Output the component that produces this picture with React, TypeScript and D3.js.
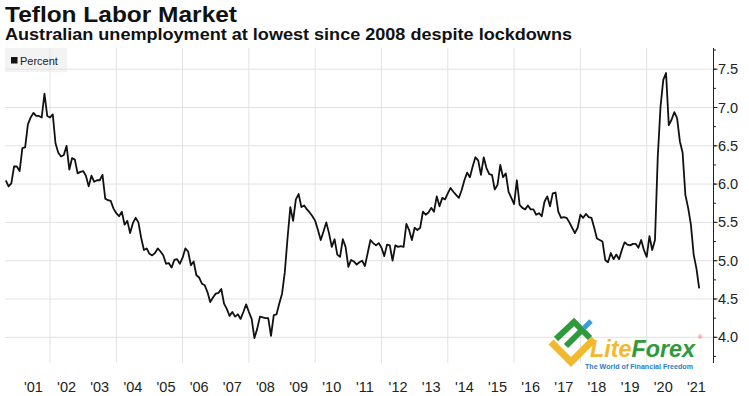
import React from "react";
import * as d3 from "d3";

// Monthly Australian unemployment rate (percent), Aug 2000 – Jul 2021
const startYear = 2000;
const startMonth = 8; // August
const unemployment = [
  6.05, 5.97, 6.01, 6.23, 6.23, 6.17, 6.47, 6.48, 6.78, 6.87, 6.93, 6.89,
  6.89, 6.87, 7.18, 6.89, 6.87, 6.91, 6.53, 6.41, 6.36, 6.38, 6.5, 6.19,
  6.34, 6.32, 6.14, 6.16, 6.17, 6.11, 5.97, 6.11, 6.03, 6.05, 6.05, 6.12,
  5.81, 5.79, 5.78, 5.68, 5.62, 5.58, 5.64, 5.47, 5.52, 5.36, 5.49, 5.56,
  5.5, 5.3, 5.14, 5.16, 5.09, 5.07, 5.1, 5.16, 5.12, 5.07, 4.96, 4.97,
  4.91, 5.01, 5.02, 4.96, 5.04, 5.16, 5.12, 4.94, 4.99, 4.81, 4.78, 4.7,
  4.68, 4.59, 4.46, 4.52, 4.57, 4.58, 4.63, 4.44, 4.37, 4.28, 4.33, 4.27,
  4.3, 4.24, 4.33, 4.43, 4.33, 4.24, 3.99, 4.11, 4.27, 4.26, 4.25, 4.25,
  4.02, 4.29, 4.3, 4.44, 4.57, 4.85, 5.3, 5.7, 5.52, 5.8, 5.87, 5.7,
  5.72, 5.67, 5.63, 5.58, 5.52, 5.4, 5.27, 5.38, 5.5, 5.36, 5.18, 5.28,
  5.08, 5.05, 5.28, 5.18, 4.92, 5.01, 4.99, 4.95, 4.98, 5.0, 4.93, 5.1,
  5.27, 5.23, 5.2, 5.23, 5.17, 5.06, 5.21, 5.2, 5.0, 5.2, 5.18, 5.19,
  5.18, 5.48, 5.4, 5.27, 5.43, 5.4, 5.43, 5.64, 5.6, 5.63, 5.69, 5.64,
  5.84, 5.71, 5.82, 5.8, 5.88, 5.95, 5.9, 5.86, 5.82, 5.92, 6.05, 6.15,
  6.09, 6.23, 6.35, 6.31, 6.12, 6.35, 6.21, 6.13, 6.12, 5.93, 5.99, 6.25,
  6.09, 6.14, 5.9, 5.82, 5.74, 6.05, 5.73, 5.69, 5.67, 5.72, 5.67, 5.67,
  5.6, 5.62, 5.58, 5.77, 5.84, 5.71, 5.88, 5.89, 5.64, 5.56, 5.57, 5.56,
  5.5, 5.43, 5.36, 5.43, 5.6, 5.56, 5.61, 5.57, 5.56, 5.43, 5.29, 5.27,
  5.25, 5.01, 4.98, 5.1, 5.02, 5.08, 5.02, 5.14, 5.24, 5.21, 5.2, 5.22,
  5.22, 5.17, 5.27, 5.14, 5.05, 5.32, 5.14, 5.27, 6.35, 7.01, 7.36, 7.45,
  6.77, 6.84, 6.94, 6.86, 6.56, 6.41, 5.86, 5.69, 5.47, 5.08, 4.9, 4.64,
];

const yearLabels = [
  "'01", "'02", "'03", "'04", "'05", "'06", "'07", "'08", "'09", "'10",
  "'11", "'12", "'13", "'14", "'15", "'16", "'17", "'18", "'19", "'20", "'21",
];
const labelYears = d3.range(2001, 2022);
const gridYears = d3.range(2002, 2021, 2);
const yTicks = [4.0, 4.5, 5.0, 5.5, 6.0, 6.5, 7.0, 7.5];
const yMinorTicks = d3.range(3.75, 7.8, 0.25);

const title = "Teflon Labor Market";
const subtitle = "Australian unemployment at lowest since 2008 despite lockdowns";
const legendLabel = "Percent";

export default function App() {
  const W = 749;
  const H = 396;
  const axisX = 713.5;
  const plotTop = 48;
  const plotBottom = 363;

  const x = d3.scaleLinear().domain([2002, 2020]).range([50, 646.7]);
  const y = d3.scaleLinear().domain([4.0, 7.5]).range([337.3, 69.2]);

  const pts = unemployment.map((v, i) => ({
    t: startYear + (startMonth + i) / 12, // end-of-month
    v,
  }));
  const line = d3
    .line<{ t: number; v: number }>()
    .x((d) => x(d.t))
    .y((d) => y(d.v));

  const font = "'Liberation Sans', Arial, sans-serif";

  return (
    <svg
      width={W}
      height={H}
      style={{ position: "absolute", left: 0, top: 0, background: "#fff" }}
      fontFamily={font}
    >
      <rect x={0} y={0} width={W} height={H} fill="#fff" />
      {/* Title */}
      <text x={5} y={22} fontSize={22} fontWeight="bold" fill="#111" textLength={232} lengthAdjust="spacingAndGlyphs">
        {title}
      </text>
      <text x={5} y={40} fontSize={16.5} fontWeight="bold" fill="#111" textLength={567} lengthAdjust="spacingAndGlyphs">
        {subtitle}
      </text>

      {/* legend background */}
      <rect x={5} y={48} width={62} height={24} fill="#f3f3f3" />

      {/* gridlines */}
      {yTicks.map((t) => (
        <line key={"h" + t} x1={5} x2={axisX} y1={y(t)} y2={y(t)} stroke="#e2e2e2" strokeWidth={1} />
      ))}
      {gridYears.map((yr) => (
        <line key={"v" + yr} x1={x(yr)} x2={x(yr)} y1={plotTop} y2={plotBottom} stroke="#e2e2e2" strokeWidth={1} />
      ))}

      {/* legend */}
      <rect x={11} y={57} width={6.5} height={6.5} fill="#111" />
      <text x={20} y={64.5} fontSize={11} fill="#222">
        {legendLabel}
      </text>

      {/* data line */}
      <path d={line(pts) || ""} fill="none" stroke="#111" strokeWidth={1.8} strokeLinejoin="round" />

      {/* right axis */}
      <line x1={axisX} x2={axisX} y1={plotTop} y2={plotBottom} stroke="#222" strokeWidth={1} />
      {yMinorTicks.map((t) => (
        <line key={"m" + t} x1={axisX} x2={axisX + 2.5} y1={y(t)} y2={y(t)} stroke="#222" strokeWidth={1} />
      ))}
      {yTicks.map((t) => (
        <g key={"t" + t}>
          <line x1={axisX} x2={axisX + 4} y1={y(t)} y2={y(t)} stroke="#222" strokeWidth={1} />
          <text x={718} y={y(t)} dy="0.35em" fontSize={14.5} fill="#222">
            {d3.format(".1f")(t)}
          </text>
        </g>
      ))}

      {/* x labels */}
      {labelYears.map((yr, i) => (
        <text key={"x" + yr} x={x(yr + 0.5)} y={392} fontSize={14.5} fill="#222" textAnchor="middle">
          {yearLabels[i]}
        </text>
      ))}

      {/* LiteForex watermark */}
      <g>
        <polyline points="551,342 571,362 594,339" fill="none" stroke="#f2b92e" strokeWidth={7} strokeLinejoin="miter" />
        <polyline points="556,339 574,322 590,338" fill="none" stroke="#2f9a3c" strokeWidth={6} strokeLinejoin="miter" />
        <polyline points="566,346 583,329" fill="none" stroke="#2f9a3c" strokeWidth={6} />
        <line x1={584} y1={328} x2={591} y2={321} stroke="#3a9be0" strokeWidth={5} />
        <text x={590} y={357} fontSize={23} fontWeight="bold" fontStyle="italic" textLength={105} lengthAdjust="spacingAndGlyphs">
          <tspan fill="#f2b92e">Lite</tspan>
          <tspan fill="#2f9a3c">Forex</tspan>
        </text>
        <text x={698} y={339} fontSize={6} fill="#e0502a">®</text>
        <text x={585} y={369} fontSize={7} fontWeight="bold" fill="#2b7cc0" textLength={108} lengthAdjust="spacingAndGlyphs">
          The World of Financial Freedom
        </text>
      </g>
    </svg>
  );
}
